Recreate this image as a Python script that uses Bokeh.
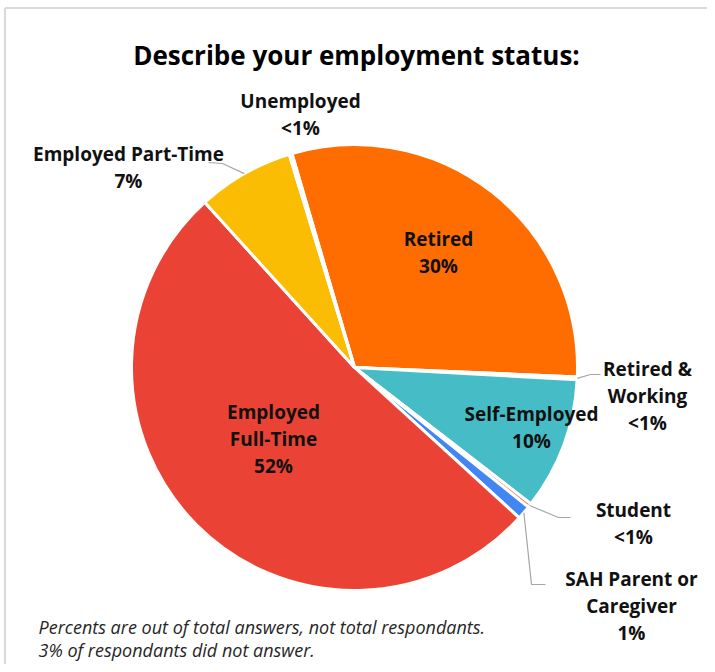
import math
from bokeh.plotting import figure
from bokeh.models import Range1d
from bokeh.core.properties import value
from bokeh.embed import file_html
from bokeh.resources import INLINE

# ---------------- data ----------------
categories = ["Retired", "Retired & Working", "Self-Employed", "Student",
              "SAH Parent or Caregiver", "Employed Full-Time", "Employed Part-Time", "Unemployed"]
values = [30.2, 0.2, 9.6, 0.3, 1.0, 51.5, 7.0, 0.2]
pct_labels = ["30%", "<1%", "10%", "<1%", "1%", "52%", "7%", "<1%"]
colors = ["#FF6D01", "#7BAAF7", "#46BDC6", "#F07B72", "#4285F4", "#EA4335", "#FBBC04", "#34A853"]
title_text = "Describe your employment status:"
note_lines = ["Percents are out of total answers, not total respondants.",
              "3% of respondants did not answer."]

# ---------------- layout (pixel coordinates, y down) ----------------
W, H = 707, 664
def Y(py):
    return H - py

CX, CY, R = 354, 367, 223
START_DEG = 106.3  # first slice starts here, slices run clockwise
FONT = "Open Sans"
LINE_STEP = 27

name_lines = {
    "Retired": ["Retired"],
    "Retired & Working": ["Retired &", "Working"],
    "Self-Employed": ["Self-Employed"],
    "Student": ["Student"],
    "SAH Parent or Caregiver": ["SAH Parent or", "Caregiver"],
    "Employed Full-Time": ["Employed", "Full-Time"],
    "Employed Part-Time": ["Employed Part-Time"],
    "Unemployed": ["Unemployed"],
}
# (center x, center y of first line)
label_pos = {
    "Retired": (438, 238),
    "Retired & Working": (647, 368),
    "Self-Employed": (531, 413),
    "Student": (633, 509),
    "SAH Parent or Caregiver": (631, 578),
    "Employed Full-Time": (273, 411),
    "Employed Part-Time": (128, 153),
    "Unemployed": (300, 100),
}
leader_tail = {
    "Retired & Working": [(590, 374), (600, 374)],
    "Student": [(558, 517), (570, 517)],
    "SAH Parent or Caregiver": [(531, 584), (545, 584)],
    "Employed Part-Time": [(222, 163), (208, 162)],
}

p = figure(width=W, height=H, x_range=Range1d(0, W), y_range=Range1d(0, H),
           output_backend="svg", toolbar_location=None, min_border=0)
p.axis.visible = False
p.grid.visible = False
p.outline_line_color = None
p.background_fill_color = "white"
p.border_fill_color = "white"

# light frame (chart area border)
p.line(x=[4.5, 4.5], y=[Y(7.5), Y(H)], line_color="#D9D9D9", line_width=2)
p.line(x=[4.5, W], y=[Y(7.5), Y(7.5)], line_color="#D9D9D9", line_width=2)

# wedges
total = sum(values)
starts, ends, mids = [], [], []
cum = 0.0
for v in values:
    a_hi = START_DEG - cum / total * 360.0
    cum += v
    a_lo = START_DEG - cum / total * 360.0
    starts.append(math.radians(a_lo))
    ends.append(math.radians(a_hi))
    mids.append(math.radians((a_lo + a_hi) / 2))

p.wedge(x=CX, y=Y(CY), radius=R, radius_units="screen",
        start_angle=starts, end_angle=ends, direction="anticlock",
        fill_color=colors, line_color="white", line_width=3)

# leader lines
xs, ys = [], []
for i, cat in enumerate(categories):
    if cat in leader_tail:
        ex = CX + R * math.cos(mids[i])
        ey = CY - R * math.sin(mids[i])
        pts = [(ex, ey)] + leader_tail[cat]
        xs.append([q[0] for q in pts])
        ys.append([Y(q[1]) for q in pts])
p.multi_line(xs=xs, ys=ys, line_color="#A6A6A6", line_width=1.2)

# data labels
tx, ty, tt = [], [], []
for i, cat in enumerate(categories):
    lx, ly = label_pos[cat]
    lines = name_lines[cat] + [pct_labels[i]]
    for k, s in enumerate(lines):
        tx.append(lx)
        ty.append(Y(ly + k * LINE_STEP))
        tt.append(s)
p.text(x=tx, y=ty, text=tt, text_align="center", text_baseline="middle",
       text_font=value(FONT), text_font_style="bold", text_font_size=value("19px"),
       text_color="#111111")

# title
p.text(x=[356], y=[Y(54)], text=[title_text], text_align="center", text_baseline="middle",
       text_font=value(FONT), text_font_style="bold", text_font_size=value("26px"),
       text_color="#000000")

# footnote
p.text(x=[38, 38], y=[Y(626), Y(649)], text=note_lines, text_align="left",
       text_baseline="middle", text_font=value(FONT), text_font_style="italic",
       text_font_size=value("18px"), text_color="#262626")

open("out.html", "w").write(file_html(p, INLINE))
